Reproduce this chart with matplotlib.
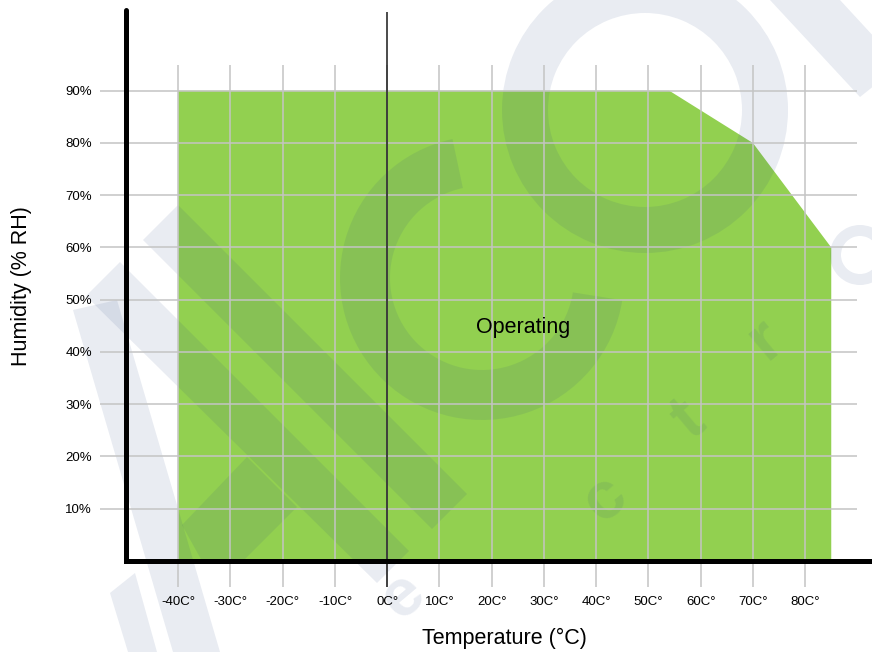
import matplotlib
matplotlib.use("Agg")
import matplotlib.pyplot as plt
from matplotlib.patches import Polygon, Wedge
from matplotlib.transforms import Affine2D

plt.rcParams["font.family"] = ["Liberation Sans", "DejaVu Sans"]

# operating envelope (temperature in degC, relative humidity in %)
env_temp = [-40, -40, 54, 70, 85, 85]
env_rh = [0, 90, 90, 80, 60, 0]

x_ticks = [-40, -30, -20, -10, 0, 10, 20, 30, 40, 50, 60, 70, 80]
x_labels = [f"{t}C°" for t in x_ticks]
y_ticks = [10, 20, 30, 40, 50, 60, 70, 80, 90]
y_labels = [f"{h}%" for h in y_ticks]

region_label = "Operating"
x_title = "Temperature (°C)"
y_title = "Humidity (% RH)"

GREEN = "#92d050"
GRID = "#c4c4c4"
WM = "#284682"   # watermark tint
WM_ALPHA = 0.10

W, H = 872, 652
fig = plt.figure(figsize=(W / 100, H / 100), dpi=100)
ax = fig.add_axes([126 / W, (H - 561) / H, (W - 126) / W, (561 - 10) / H])
ax.set_xlim(-50, 92.8)
ax.set_ylim(0, 105.45)
ax.set_facecolor("none")

# envelope
ax.fill(env_temp, env_rh, color=GREEN, lw=0, zorder=1.0)

# watermark logo, drawn in pixel coords (y down)
px = Affine2D().scale(1 / W, -1 / H).translate(0, 1) + fig.transFigure
wm_polys = [
    [(143, 240), (178, 205), (467, 494), (432, 529)],
    [(120, 262), (409, 551), (377, 583), (86, 296)],
    [(73, 310), (117, 300), (220, 652), (173, 652)],
    [(182, 525), (247, 457), (297, 507), (243, 561), (202, 561)],
    [(110, 593), (135, 573), (157, 652), (128, 652)],
    [(770, 0), (840, 0), (900, 65), (860, 97)],
]
for pts in wm_polys:
    ax.add_patch(Polygon(pts, closed=True, transform=px, fc=WM, alpha=WM_ALPHA,
                         lw=0, clip_on=False, zorder=1.1))
# big "C" and the rings
ax.add_patch(Wedge((482, 278), 142, 9, 258, width=50, transform=px, fc=WM,
                   alpha=WM_ALPHA, lw=0, clip_on=False, zorder=1.1))
ax.add_patch(Wedge((645, 110), 143, 0, 360, width=46, transform=px, fc=WM,
                   alpha=WM_ALPHA, lw=0, clip_on=False, zorder=1.1))
ax.add_patch(Wedge((860, 255), 30, 0, 360, width=11, transform=px, fc=WM,
                   alpha=WM_ALPHA, lw=0, clip_on=False, zorder=1.1))
for ch, (lx, ly) in zip("ectr", [(403, 597), (605, 500), (688, 420), (765, 340)]):
    ax.text(lx, ly, ch, transform=px, fontsize=48, fontweight="bold", color=WM,
            alpha=WM_ALPHA, rotation=40, ha="center", va="center", zorder=1.1,
            clip_on=False)

# grid, drawn by hand because it does not span the full axes
ax.vlines(x_ticks, -5, 95, colors=GRID, lw=1.1, zorder=1.2, clip_on=False)
ax.hlines(y_ticks, -55, 90, colors=GRID, lw=1.1, zorder=1.2, clip_on=False)
ax.vlines(0, -5, 105, colors="#1a1a1a", lw=1.1, zorder=1.3, clip_on=False)

ax.text(26, 44.7, region_label, fontsize=15.5, ha="center", va="center", zorder=3)

ax.set_xticks(x_ticks)
ax.set_xticklabels(x_labels)
ax.set_yticks(y_ticks)
ax.set_yticklabels(y_labels)
ax.tick_params(axis="x", length=0, labelsize=9.5, pad=25)
ax.tick_params(axis="y", length=0, labelsize=9.5, pad=24.5)

for side in ("top", "right"):
    ax.spines[side].set_visible(False)
ax.spines["left"].set_linewidth(3.6)
ax.spines["left"].set_capstyle("round")
ax.spines["bottom"].set_linewidth(3.6)
ax.spines["bottom"].set_capstyle("projecting")

fig.text(504.5 / W, (H - 638) / H, x_title, fontsize=15.5, ha="center", va="center")
fig.text(22 / W, (H - 286.5) / H, y_title, fontsize=15.5, ha="center", va="center",
         rotation=90)

fig.savefig("out.png", dpi=100)
